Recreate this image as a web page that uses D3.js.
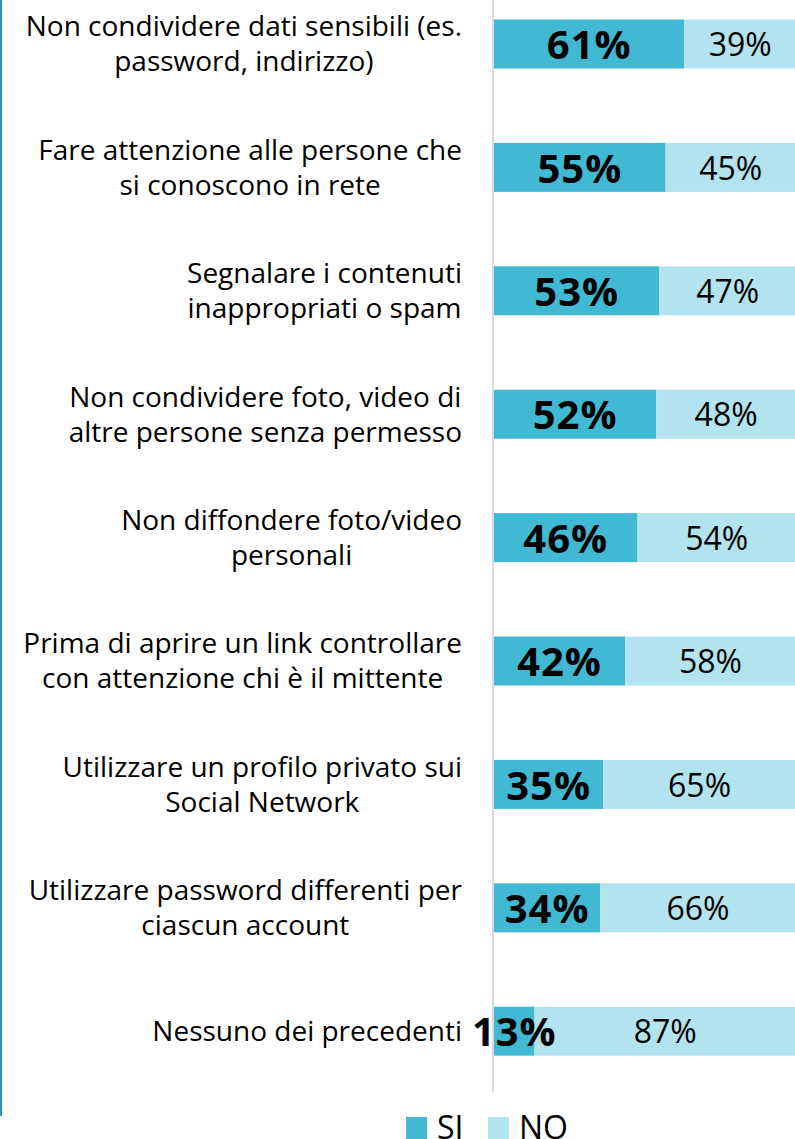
<!DOCTYPE html>
<style type="text/css">
body { margin: 0; background: #fff; }
svg { display: block; font-family: "Open Sans", sans-serif; }
</style>
<svg width="795" height="1139"></svg>
<script src="https://d3js.org/d3.v7.min.js"></script>
<script>

var categories = [
	["Non condividere dati sensibili (es.", "password, indirizzo)"],
	["Fare attenzione alle persone che", "si conoscono in rete"],
	["Segnalare i contenuti", "inappropriati o spam"],
	["Non condividere foto, video di", "altre persone senza permesso"],
	["Non diffondere foto/video", "personali"],
	["Prima di aprire un link controllare", "con attenzione chi è il mittente"],
	["Utilizzare un profilo privato sui", "Social Network"],
	["Utilizzare password differenti per", "ciascun account"],
	["Nessuno dei precedenti"]
];
var si = [61, 55, 53, 52, 46, 42, 35, 34, 13];
var no = [39, 45, 47, 48, 54, 58, 65, 66, 87];
var seriesNames = ["SI", "NO"];
var colors = ["#41b9d3", "#b3e3ee"];

var svg = d3.select("svg"),
		width = +svg.attr("width"),
		height = +svg.attr("height");

var rows = categories.map(function(c, i) { return { id: i, label: c, si: si[i], no: no[i] }; });

var x = d3.scaleLinear().domain([0, 100]).range([494, 806]);

var y = d3.scaleBand()
		.domain(rows.map(function(d) { return d.id; }))
		.range([-17.7, 1092.9])
		.paddingInner(0.603)
		.paddingOuter(0.3015);

// left accent line
svg.append("rect")
		.attr("x", 0).attr("y", 0)
		.attr("width", 2).attr("height", 1116)
		.attr("fill", "#2a9bb3");

// axis line
svg.append("line")
		.attr("x1", 493).attr("x2", 493)
		.attr("y1", 0).attr("y2", 1092)
		.attr("stroke", "#d9d9d9")
		.attr("stroke-width", 2);

var stack = d3.stack().keys(["si", "no"]);
var series = stack(rows);

svg.append("g").selectAll("g")
	.data(series)
	.enter().append("g")
		.attr("fill", function(d, i) { return colors[i]; })
	.selectAll("rect")
	.data(function(d) { return d; })
	.enter().append("rect")
		.attr("x", function(d) { return x(d[0]); })
		.attr("y", function(d) { return y(d.data.id); })
		.attr("width", function(d) { return x(d[1]) - x(d[0]); })
		.attr("height", y.bandwidth());

// value labels
var vals = svg.append("g").attr("fill", "#000").attr("text-anchor", "middle");

vals.selectAll("text.si")
	.data(rows)
	.enter().append("text")
		.attr("class", "si")
		.attr("x", function(d) { return (x(0) + x(d.si)) / 2; })
		.attr("y", function(d) { return y(d.id) + y.bandwidth() / 2; })
		.attr("dy", "0.38em")
		.attr("font-size", 40)
		.attr("font-weight", "bold")
		.attr("letter-spacing", 1)
		.text(function(d) { return d.si + "%"; });

vals.selectAll("text.no")
	.data(rows)
	.enter().append("text")
		.attr("class", "no")
		.attr("x", function(d) { return (x(d.si) + x(100)) / 2 - 5; })
		.attr("y", function(d) { return y(d.id) + y.bandwidth() / 2; })
		.attr("dy", "0.38em")
		.attr("font-size", 32)
		.text(function(d) { return d.no + "%"; });

// category labels: lines centered within block, block right-aligned
var labelRight = 462;
var lineH = 35;
var lab = svg.append("g").attr("font-size", 28).attr("fill", "#000").attr("text-anchor", "middle");

rows.forEach(function(d) {
	var g = lab.append("g");
	var cy = y(d.id) + y.bandwidth() / 2;
	var n = d.label.length;
	var texts = g.selectAll("text")
		.data(d.label)
		.enter().append("text")
			.attr("y", function(t, j) { return cy + (j - (n - 1) / 2) * lineH; })
			.attr("dy", "0.35em")
			.text(function(t) { return t; });
	var maxW = d3.max(texts.nodes(), function(nd) { return nd.getComputedTextLength(); });
	texts.attr("x", labelRight - maxW / 2);
});

// legend
var legend = svg.append("g").attr("font-size", 32);
var legX = [406, 488];
seriesNames.forEach(function(s, i) {
	legend.append("rect")
		.attr("x", legX[i]).attr("y", 1117)
		.attr("width", 21).attr("height", 22)
		.attr("fill", colors[i]);
	legend.append("text")
		.attr("x", legX[i] + 31).attr("y", 1139)
		.attr("fill", "#000")
		.text(s);
});

</script>
